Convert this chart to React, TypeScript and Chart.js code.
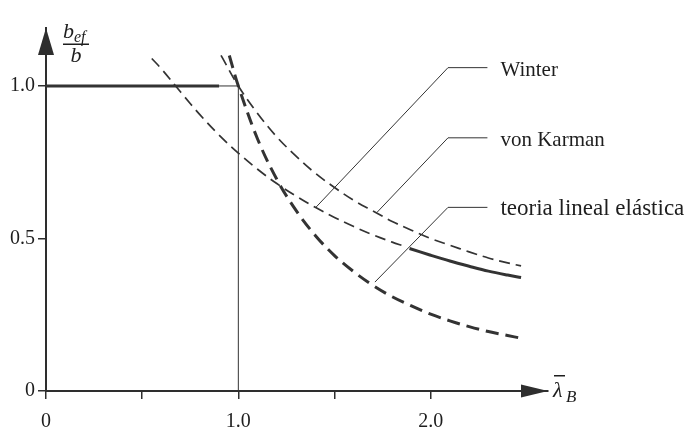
import React, { useEffect, useRef } from "react";
import { Chart, registerables } from "chart.js";

Chart.register(...registerables);

// ---- axis ticks ----
const xTickValues = [0, 0.5, 1.0, 1.5, 2.0];
const xTickLabels = ["0", "", "1.0", "", "2.0"];
const yTickValues = [0, 0.5, 1.0];
const yTickLabels = ["0", "0.5", "1.0"];

// ---- curves (lambda_B , b_ef/b) ----
const vonKarmanLambda = [0.91, 1.0, 1.1, 1.2, 1.3, 1.4, 1.5, 1.6, 1.7, 1.8, 1.9, 2.0, 2.1, 2.2, 2.3, 2.4, 2.47];
const vonKarmanValue = [1.1, 1.0, 0.91, 0.833, 0.77, 0.714, 0.667, 0.625, 0.59, 0.556, 0.527, 0.5, 0.478, 0.456, 0.436, 0.42, 0.41];

const winterDashLambda = [0.55, 0.6, 0.7, 0.8, 0.9, 1.0, 1.1, 1.2, 1.3, 1.4, 1.5, 1.6, 1.7, 1.8, 1.86];
const winterDashValue = [1.09, 1.056, 0.98, 0.906, 0.839, 0.78, 0.727, 0.68, 0.639, 0.602, 0.569, 0.539, 0.512, 0.488, 0.475];
const winterSolidLambda = [1.89, 2.0, 2.1, 2.2, 2.3, 2.4, 2.47];
const winterSolidValue = [0.467, 0.445, 0.426, 0.409, 0.393, 0.38, 0.372];

const elasticLambda = [0.953, 1.0, 1.1, 1.2, 1.3, 1.4, 1.5, 1.6, 1.7, 1.8, 1.9, 2.0, 2.1, 2.2, 2.3, 2.4, 2.47];
const elasticValue = [1.1, 1.0, 0.826, 0.694, 0.592, 0.51, 0.444, 0.391, 0.346, 0.309, 0.279, 0.252, 0.23, 0.211, 0.195, 0.182, 0.173];

const plateauLambda = [0, 0.9];
const plateauValue = [1.0, 1.0];
const plateauThinLambda = [0.9, 1.0];
const plateauThinValue = [1.0, 1.0];
const limitLambda = [1.0, 1.0];
const limitValue = [0, 1.0];

// ---- callouts ----
const calloutNames = ["Winter", "von Karman", "teoria lineal elástica"];
const calloutFontSize = [21, 21, 23];
const calloutAnchorLambda = [1.4, 1.72, 1.71];
const calloutAnchorValue = [0.6, 0.585, 0.357];
const calloutElbowLambda = [2.09, 2.09, 2.09];
const calloutElbowValue = [1.06, 0.83, 0.602];
const calloutEndLambda = [2.295, 2.295, 2.295];

const zip = (xs: number[], ys: number[]) => xs.map((x, i) => ({ x, y: ys[i] }));

const INK = "#2e2e2e";
const SERIF = "'Liberation Serif', 'Times New Roman', serif";

const decorPlugin = {
  id: "decor",
  afterDraw(chart: any) {
    const { ctx, chartArea } = chart;
    const xs = chart.scales.x;
    const ys = chart.scales.y;
    const x0 = xs.getPixelForValue(0);
    const y0 = ys.getPixelForValue(0);
    ctx.save();
    ctx.fillStyle = INK;
    // y arrow
    ctx.beginPath();
    ctx.moveTo(x0, chartArea.top);
    ctx.lineTo(x0 - 8, chartArea.top + 27);
    ctx.lineTo(x0 + 8, chartArea.top + 27);
    ctx.closePath();
    ctx.fill();
    // x arrow
    ctx.beginPath();
    ctx.moveTo(chartArea.right, y0);
    ctx.lineTo(chartArea.right - 27, y0 - 6.5);
    ctx.lineTo(chartArea.right - 27, y0 + 6.5);
    ctx.closePath();
    ctx.fill();

    // callouts
    ctx.strokeStyle = "#333";
    ctx.lineWidth = 1;
    ctx.setLineDash([]);
    calloutNames.forEach((name, i) => {
      const ax = xs.getPixelForValue(calloutAnchorLambda[i]);
      const ay = ys.getPixelForValue(calloutAnchorValue[i]);
      const ex = xs.getPixelForValue(calloutElbowLambda[i]);
      const ey = ys.getPixelForValue(calloutElbowValue[i]);
      const tx = xs.getPixelForValue(calloutEndLambda[i]);
      ctx.beginPath();
      ctx.moveTo(ax, ay);
      ctx.lineTo(ex, ey);
      ctx.lineTo(tx, ey);
      ctx.stroke();
      ctx.fillStyle = "#1e1e1e";
      ctx.font = `${calloutFontSize[i]}px ${SERIF}`;
      ctx.textAlign = "left";
      ctx.textBaseline = "alphabetic";
      ctx.fillText(name, tx + 13, ey + 8);
    });

    // y axis title: b_ef / b
    ctx.fillStyle = "#1e1e1e";
    ctx.textBaseline = "alphabetic";
    ctx.font = `italic 22px ${SERIF}`;
    ctx.textAlign = "left";
    ctx.fillText("b", x0 + 17, chartArea.top + 10);
    ctx.font = `italic 16px ${SERIF}`;
    ctx.fillText("ef", x0 + 28, chartArea.top + 14);
    ctx.fillRect(x0 + 17, chartArea.top + 15.5, 26, 1.5);
    ctx.font = `italic 22px ${SERIF}`;
    ctx.textAlign = "center";
    ctx.fillText("b", x0 + 30, chartArea.top + 34);

    // x axis title: lambda bar _B
    ctx.textAlign = "left";
    ctx.font = `italic 22px ${SERIF}`;
    const lx = chartArea.right + 5;
    ctx.fillText("λ", lx, y0 + 6);
    ctx.fillRect(lx + 1, y0 - 16, 11, 1.5);
    ctx.font = `italic 17px ${SERIF}`;
    ctx.fillText("B", lx + 13, y0 + 11);
    ctx.restore();
  },
};

export default function App() {
  const ref = useRef<HTMLCanvasElement | null>(null);
  useEffect(() => {
    const canvas = ref.current!;
    const thin = { borderColor: "#333", pointRadius: 0, fill: false, tension: 0.35 };
    const chart = new Chart(canvas, {
      type: "line",
      data: {
        datasets: [
          { ...thin, data: zip(limitLambda, limitValue), borderWidth: 1, tension: 0 },
          { ...thin, data: zip(plateauThinLambda, plateauThinValue), borderWidth: 1, tension: 0 },
          { ...thin, data: zip(plateauLambda, plateauValue), borderWidth: 3, tension: 0 },
          { ...thin, data: zip(vonKarmanLambda, vonKarmanValue), borderWidth: 1.7, borderDash: [11, 6] },
          { ...thin, data: zip(winterDashLambda, winterDashValue), borderWidth: 1.7, borderDash: [11, 6] },
          { ...thin, data: zip(winterSolidLambda, winterSolidValue), borderWidth: 3 },
          { ...thin, data: zip(elasticLambda, elasticValue), borderWidth: 3, borderDash: [13, 7] },
        ],
      },
      options: {
        responsive: false,
        animation: false,
        devicePixelRatio: 1,
        layout: { padding: { top: 28, right: 140, left: 0, bottom: 0 } },
        plugins: { legend: { display: false }, tooltip: { enabled: false } },
        scales: {
          x: {
            type: "linear",
            min: 0,
            max: 2.61,
            afterBuildTicks: (s: any) => {
              s.ticks = xTickValues.map((v) => ({ value: v }));
            },
            afterFit: (s: any) => {
              s.height = 37;
            },
            ticks: {
              callback: (v: any) => {
                const i = xTickValues.indexOf(Number(v));
                return i >= 0 ? xTickLabels[i] : "";
              },
              font: { family: SERIF, size: 20 },
              color: "#1e1e1e",
              padding: 11,
              maxRotation: 0,
              autoSkip: false,
            },
            grid: { drawOnChartArea: false, drawTicks: true, tickLength: 8, color: INK, lineWidth: 1.5 },
            border: { display: true, color: INK, width: 2 },
          },
          y: {
            type: "linear",
            min: 0,
            max: 1.19,
            afterBuildTicks: (s: any) => {
              s.ticks = yTickValues.map((v) => ({ value: v }));
            },
            afterFit: (s: any) => {
              s.width = 46;
            },
            ticks: {
              callback: (v: any) => {
                const i = yTickValues.indexOf(Number(v));
                return i >= 0 ? yTickLabels[i] : "";
              },
              font: { family: SERIF, size: 20 },
              color: "#1e1e1e",
              padding: 3,
              autoSkip: false,
            },
            grid: { drawOnChartArea: false, drawTicks: true, tickLength: 8, color: INK, lineWidth: 1.5 },
            border: { display: true, color: INK, width: 2 },
          },
        },
      },
      plugins: [decorPlugin],
    } as any);
    return () => chart.destroy();
  }, []);
  return (
    <div style={{ position: "absolute", left: 0, top: 0, width: 688, height: 428, background: "#fff" }}>
      <canvas ref={ref} width={688} height={428} />
    </div>
  );
}
